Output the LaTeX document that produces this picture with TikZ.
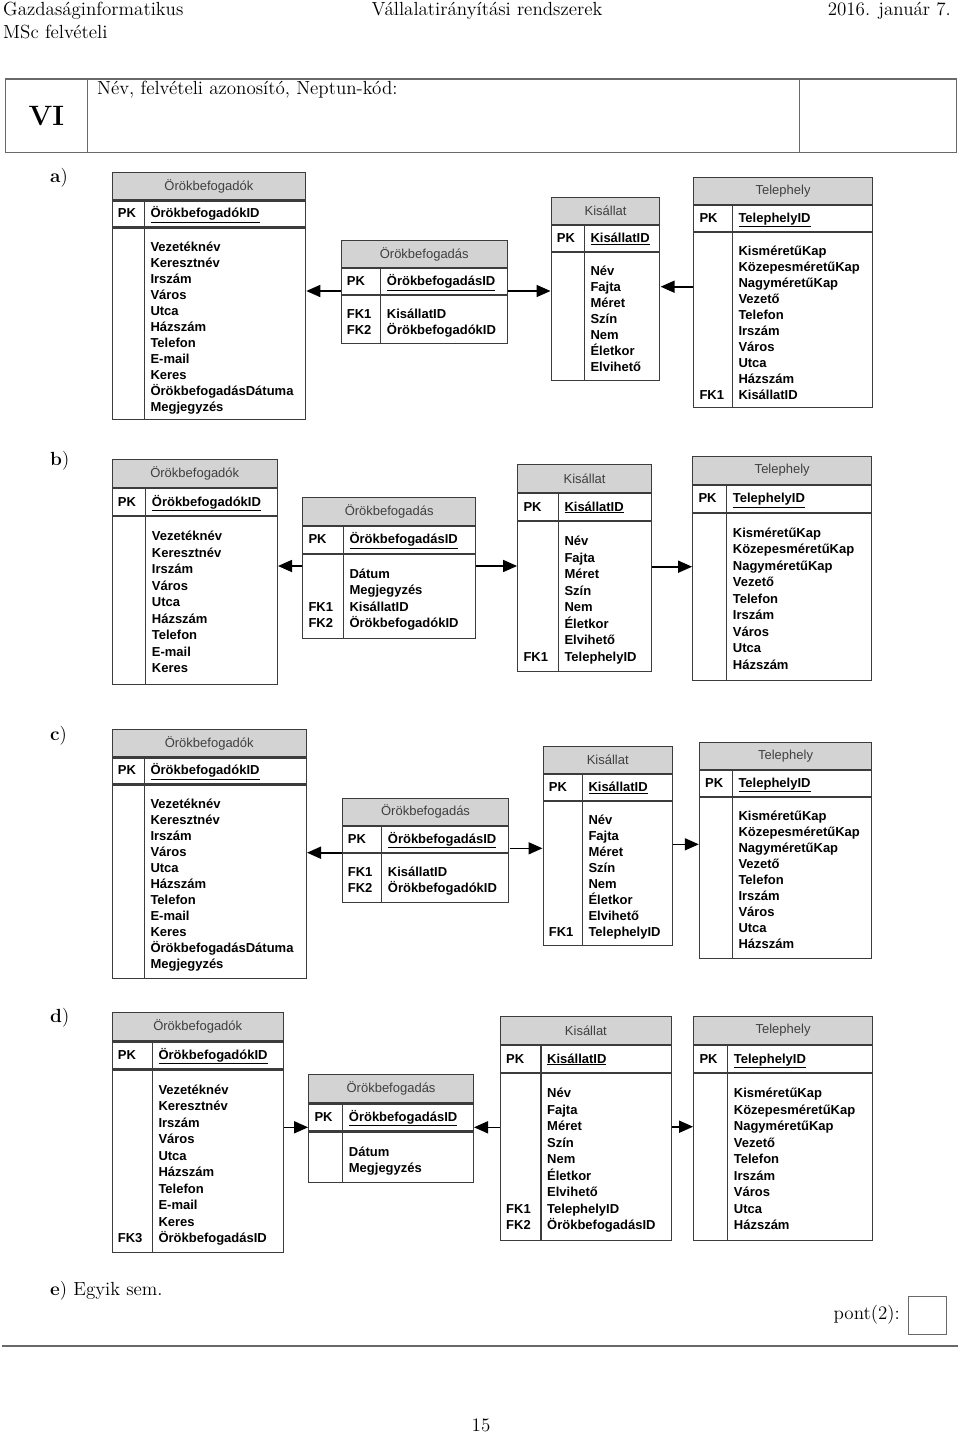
\documentclass[tikz,border=0pt]{standalone}
\usepackage{fontspec}
\setmainfont{lmroman12-regular.otf}[BoldFont=lmroman12-bold.otf]
\newfontfamily\ersans{Liberation Sans}
\usetikzlibrary{arrows.meta,fit}

\definecolor{hdrgray}{RGB}{211,211,211}
\definecolor{tabgray}{RGB}{60,60,60}
\definecolor{rulegray}{RGB}{105,105,105}

% row heights of the current block
\def\hdh{27}\def\pkh{26}\def\rowsep{16}\def\firstoff{19.5}

% name, position, width, divider, body height, title, PK field, fields
\newcommand{\ertab}[8]{%
  \node[tabhead, minimum width=#3, anchor=north west] (#1h) at (#2) {#6};
  \node[tabrow, minimum width=#3, minimum height=\pkh, anchor=north west] (#1p) at (#1h.south west) {};
  \node[tabrow, minimum width=#3, minimum height=#5, anchor=north west] (#1b) at (#1p.south west) {};
  \draw[tabline] ([xshift=#4]#1p.north west) -- ([xshift=#4]#1b.south west);
  \node[keytxt] (#1pk) at ([xshift=6]#1p.west) {PK};
  \node[fldtxt] (#1id) at ([xshift=#4+6]#1p.west) {\underline{#7}};
  \foreach \f [count=\i] in {#8}
    \node[fldtxt] (#1f\i) at ([xshift=#4+6, yshift=-\firstoff-(\i-1)*\rowsep]#1b.north west) {\f};
  \node[fit=(#1h)(#1b), inner sep=0pt] (#1) {};
}
% foreign keys: name, list of row/label
\newcommand{\erkeys}[2]{%
  \foreach \krow/\klabel in {#2}
    \node[keytxt] (#1k\krow) at ([xshift=6, yshift=-\firstoff-(\krow-1)*\rowsep]#1b.north west) {\klabel};
}

\begin{document}
\begin{tikzpicture}[x=1pt,y=-1pt,
    >={Triangle[length=14pt,width=12pt]},
    tabhead/.style={draw=tabgray, fill=hdrgray, line width=1.1pt, inner sep=0pt,
      minimum height=\hdh, text=black!75, font=\ersans\fontsize{13}{15}\selectfont},
    tabrow/.style={draw=tabgray, fill=white, line width=1.1pt, inner sep=0pt},
    tabline/.style={draw=tabgray, line width=1.1pt},
    fldtxt/.style={anchor=west, inner sep=0pt, text height=9pt, text depth=1pt,
      font=\ersans\bfseries\fontsize{13}{15}\selectfont},
    keytxt/.style={fldtxt},
    rel/.style={line width=1.6pt},
    page/.style={inner sep=0pt, font=\fontsize{19}{22}\selectfont},
    cell/.style={draw=rulegray, line width=1.2pt, inner sep=0pt, anchor=north west}]
\useasboundingbox (0,0) rectangle (960,1435);

% Page head
\node[page, anchor=base west] (course) at (3,15.5) {Gazdaságinformatikus};
\node[page, anchor=base] (subject) at (487,15.5) {Vállalatirányítási rendszerek};
\node[page, anchor=base east] (date) at (951,15.5) {2016. január 7.};
\node[page, anchor=base west] (exam) at (3,38.5) {MSc felvételi};

\node[cell, minimum width=81.7, minimum height=73.4] (vicell) at (5,78.3) {};
\node[cell, minimum width=712.3, minimum height=73.4] (namecell) at (86.7,78.3) {};
\node[cell, minimum width=157, minimum height=73.4] (pointcell) at (799,78.3) {};
\node[page, font=\bfseries\fontsize{28}{30}\selectfont] (vi) at (vicell.center) {VI};
\node[page, anchor=base west] (namelbl) at (97,94.5) {Név, felvételi azonosító, Neptun-kód:};

% a)
\node[page, anchor=base west] (la) at (50,182.6) {\textbf{a})};
\ertab{aOk}{111.7,172.3}{193.3}{32.6}{191.4}{Örökbefogadók}{ÖrökbefogadókID}{Vezetéknév,Keresztnév,Irszám,Város,Utca,Házszám,Telefon,E-mail,Keres,ÖrökbefogadásDátuma,Megjegyzés}
\ertab{aOs}{340.7,240}{166}{40}{48}{Örökbefogadás}{ÖrökbefogadásID}{KisállatID,ÖrökbefogadókID}
\erkeys{aOs}{1/FK1,2/FK2}
\ertab{aKi}{550.7,196.7}{108.6}{33.6}{127.6}{Kisállat}{KisállatID}{Név,Fajta,Méret,Szín,Nem,Életkor,Elvihető}
\ertab{aTe}{693.3,176.7}{178.4}{39}{175.3}{Telephely}{TelephelyID}{KisméretűKap,KözepesméretűKap,NagyméretűKap,Vezető,Telefon,Irszám,Város,Utca,Házszám,KisállatID}
\erkeys{aTe}{10/FK1}
\path[draw,->,rel] (aOs.west |- 0,291) -- (aOk.east |- 0,291);
\path[draw,->,rel] (aOs.east |- 0,291) -- (aKi.west |- 0,291);
\path[draw,->,rel] (aTe.west |- 0,286.7) -- (aKi.east |- 0,286.7);

% b)
\def\hdh{28}\def\pkh{27}\def\rowsep{16.5}\def\firstoff{20.5}
\node[page, anchor=base west] (lb) at (50,465.5) {\textbf{b})};
\ertab{bOk}{111.7,459}{165}{34}{167.7}{Örökbefogadók}{ÖrökbefogadókID}{Vezetéknév,Keresztnév,Irszám,Város,Utca,Házszám,Telefon,E-mail,Keres}
\ertab{bOs}{302.3,496.7}{172.7}{41}{84}{Örökbefogadás}{ÖrökbefogadásID}{Dátum,Megjegyzés,KisállatID,ÖrökbefogadókID}
\erkeys{bOs}{3/FK1,4/FK2}
\ertab{bKi}{517.3,464}{133.4}{41}{150}{Kisállat}{KisállatID}{Név,Fajta,Méret,Szín,Nem,Életkor,Elvihető,TelephelyID}
\erkeys{bKi}{8/FK1}
\ertab{bTe}{692.3,455.7}{178.7}{34.4}{166.6}{Telephely}{TelephelyID}{KisméretűKap,KözepesméretűKap,NagyméretűKap,Vezető,Telefon,Irszám,Város,Utca,Házszám}
\path[draw,->,rel] (bOs.west |- 0,566) -- (bOk.east |- 0,566);
\path[draw,->,rel] (bOs.east |- 0,566) -- (bKi.west |- 0,566);
\path[draw,->,rel] (bKi.east |- 0,566.7) -- (bTe.west |- 0,566.7);

% c)
\def\hdh{27}\def\pkh{26}\def\rowsep{16}\def\firstoff{19.5}
\node[page, anchor=base west] (lc) at (50,740) {\textbf{c})};
\ertab{cOk}{111.7,729.3}{194}{32.6}{193.7}{Örökbefogadók}{ÖrökbefogadókID}{Vezetéknév,Keresztnév,Irszám,Város,Utca,Házszám,Telefon,E-mail,Keres,ÖrökbefogadásDátuma,Megjegyzés}
\ertab{cOs}{341.7,797.7}{166.6}{40}{48.6}{Örökbefogadás}{ÖrökbefogadásID}{KisállatID,ÖrökbefogadókID}
\erkeys{cOs}{1/FK1,2/FK2}
\ertab{cKi}{542.7,745.7}{129}{39.6}{144}{Kisállat}{KisállatID}{Név,Fajta,Méret,Szín,Nem,Életkor,Elvihető,TelephelyID}
\erkeys{cKi}{8/FK1}
\ertab{cTe}{699,741.7}{172}{33.3}{161}{Telephely}{TelephelyID}{KisméretűKap,KözepesméretűKap,NagyméretűKap,Vezető,Telefon,Irszám,Város,Utca,Házszám}
\path[draw,->,rel] (cOs.west |- 0,852.7) -- (cOk.east |- 0,852.7);
\path[draw,->,rel] (cOs.east |- 0,848.3) -- (cKi.west |- 0,848.3);
\path[draw,->,rel] (cKi.east |- 0,844.3) -- (cTe.west |- 0,844.3);

% d)
\def\hdh{28}\def\pkh{27}\def\rowsep{16.5}\def\firstoff{20.5}
\node[page, anchor=base west] (ld) at (50,1022.5) {\textbf{d})};
\ertab{dOk}{111.7,1012.3}{171}{40.6}{182.7}{Örökbefogadók}{ÖrökbefogadókID}{Vezetéknév,Keresztnév,Irszám,Város,Utca,Házszám,Telefon,E-mail,Keres,ÖrökbefogadásID}
\erkeys{dOk}{10/FK3}
\ertab{dOs}{308.3,1074.3}{164.4}{34.4}{50}{Örökbefogadás}{ÖrökbefogadásID}{Dátum,Megjegyzés}
\ertab{dKi}{500,1016}{170.7}{41}{166.7}{Kisállat}{KisállatID}{Név,Fajta,Méret,Szín,Nem,Életkor,Elvihető,TelephelyID,ÖrökbefogadásID}
\erkeys{dKi}{8/FK1,9/FK2}
\ertab{dTe}{693.3,1016}{178.4}{34.4}{166.7}{Telephely}{TelephelyID}{KisméretűKap,KözepesméretűKap,NagyméretűKap,Vezető,Telefon,Irszám,Város,Utca,Házszám}
\path[draw,->,rel] (dOk.east |- 0,1127.3) -- (dOs.west |- 0,1127.3);
\path[draw,->,rel] (dKi.west |- 0,1127.3) -- (dOs.east |- 0,1127.3);
\path[draw,->,rel] (dKi.east |- 0,1126.7) -- (dTe.west |- 0,1126.7);

% e) and page foot
\node[page, anchor=base west] (le) at (50,1295.5) {\textbf{e}) Egyik sem.};
\node[page, anchor=base east] (pont) at (900,1319) {pont(2):};
\node[cell, minimum width=38, minimum height=38] (pontbox) at (907.5,1296) {};
\coordinate (footl) at (2,1346);
\coordinate (footr) at (958,1346);
\draw[rulegray, line width=2pt] (footl) -- (footr);
\node[page, anchor=base] (pageno) at (481,1431.5) {15};
\end{tikzpicture}
\end{document}
